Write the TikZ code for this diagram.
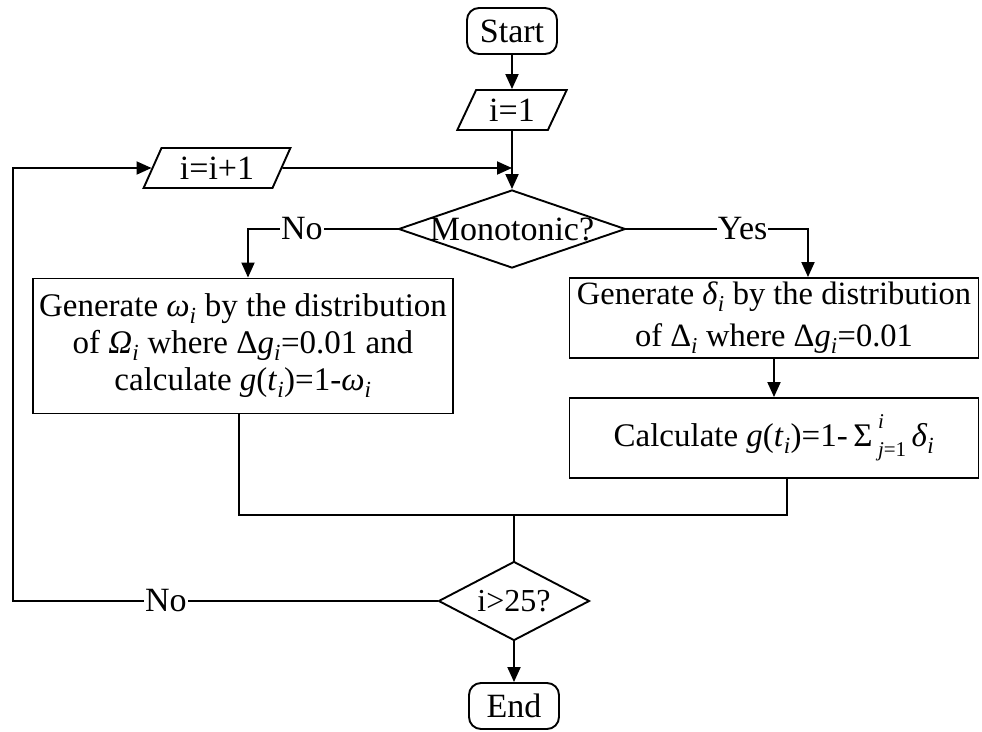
\documentclass[tikz,border=0pt]{standalone}
\usepackage{fontspec}
\setmainfont{Liberation Serif}
\usetikzlibrary{shapes.geometric,arrows.meta}
\newcommand{\ital}[1]{\textit{#1}}
\newcommand{\isub}[1]{\textsubscript{\textit{#1}}}

\begin{document}
\begin{tikzpicture}[x=1pt, y=-1pt, line width=1.9pt,
    every node/.style={font=\fontsize{34}{38}\selectfont},
    terminal/.style={rectangle, rounded corners=12pt, draw, minimum width=90pt, minimum height=46pt, inner sep=0pt},
    io/.style={trapezium, trapezium left angle=62, trapezium right angle=118, trapezium stretches=true, draw, minimum height=40pt, inner sep=0pt},
    decision/.style={diamond, draw, inner sep=0pt},
    process/.style={rectangle, draw, align=center, inner sep=0pt},
    arrow/.style={-{Triangle[length=15pt,width=13pt]}},
    answer/.style={fill=white, inner sep=1pt}]
    \useasboundingbox (0,0) rectangle (982,731);

    % Main loop
    \node[terminal] (start) at (512,31) {Start};
    \node[io, minimum width=110pt] (init) at (512,110) {i=1};
    \node[io, minimum width=148pt] (incr) at (217,168) {i=i+1};
    \node[decision, minimum width=227pt, minimum height=78pt] (mono) at (512,229) {\makebox[0pt]{Monotonic?}};

    % Two branches
    \node[process, minimum width=420pt, minimum height=135pt, font=\fontsize{33}{37}\selectfont] (omega) at (243,346)
        {Generate \ital{ω}\isub{i} by the distribution\\ of \ital{Ω}\isub{i} where Δ\ital{g}\isub{i}=0.01 and\\ calculate \ital{g}(\ital{t}\isub{i})=1-\ital{ω}\isub{i}};
    \node[process, minimum width=409pt, minimum height=80pt, font=\fontsize{32.5}{42}\selectfont] (delta) at (774,318)
        {Generate \ital{δ}\isub{i} by the distribution\\ of Δ\isub{i} where Δ\ital{g}\isub{i}=0.01};
    \node[process, minimum width=409pt, minimum height=80pt, font=\fontsize{33}{38}\selectfont] (sum) at (774,438)
        {Calculate \ital{g}(\ital{t}\isub{i})=1-\,Σ\,\rlap{\raisebox{0.55em}{\fontsize{21}{21}\selectfont\ital{i}}}\raisebox{-0.3em}{\fontsize{21}{21}\selectfont\ital{j}=1}\,\ital{δ}\isub{i}};

    \node[decision, minimum width=151pt, minimum height=79pt, font=\fontsize{32}{36}\selectfont] (check) at (514,601) {\makebox[0pt]{i>25?}};
    \node[terminal] (end) at (514,706) {End};

    \coordinate (loop) at (13,601);
    \coordinate (merge) at (514,515);

    \draw[arrow] (start) -- (init);
    \draw[arrow] (init) -- (mono);
    \draw[arrow] (incr) -- (incr -| init);
    \draw[arrow] (mono) -| node[answer, pos=0.32] {No} ([xshift=5pt]omega.north);
    \draw[arrow] (mono) -| node[answer, pos=0.32] {Yes} ([xshift=34pt]delta.north);
    \draw[arrow] (delta) -- (sum);
    \draw ([xshift=-4pt]omega.south) |- (merge);
    \draw ([xshift=13pt]sum.south) |- (merge);
    \draw (merge) -- (check);
    \draw[arrow] (check) -- (end);
    \draw[arrow] (check) -- node[answer, pos=0.64] {No} (loop) |- (incr);
\end{tikzpicture}
\end{document}
